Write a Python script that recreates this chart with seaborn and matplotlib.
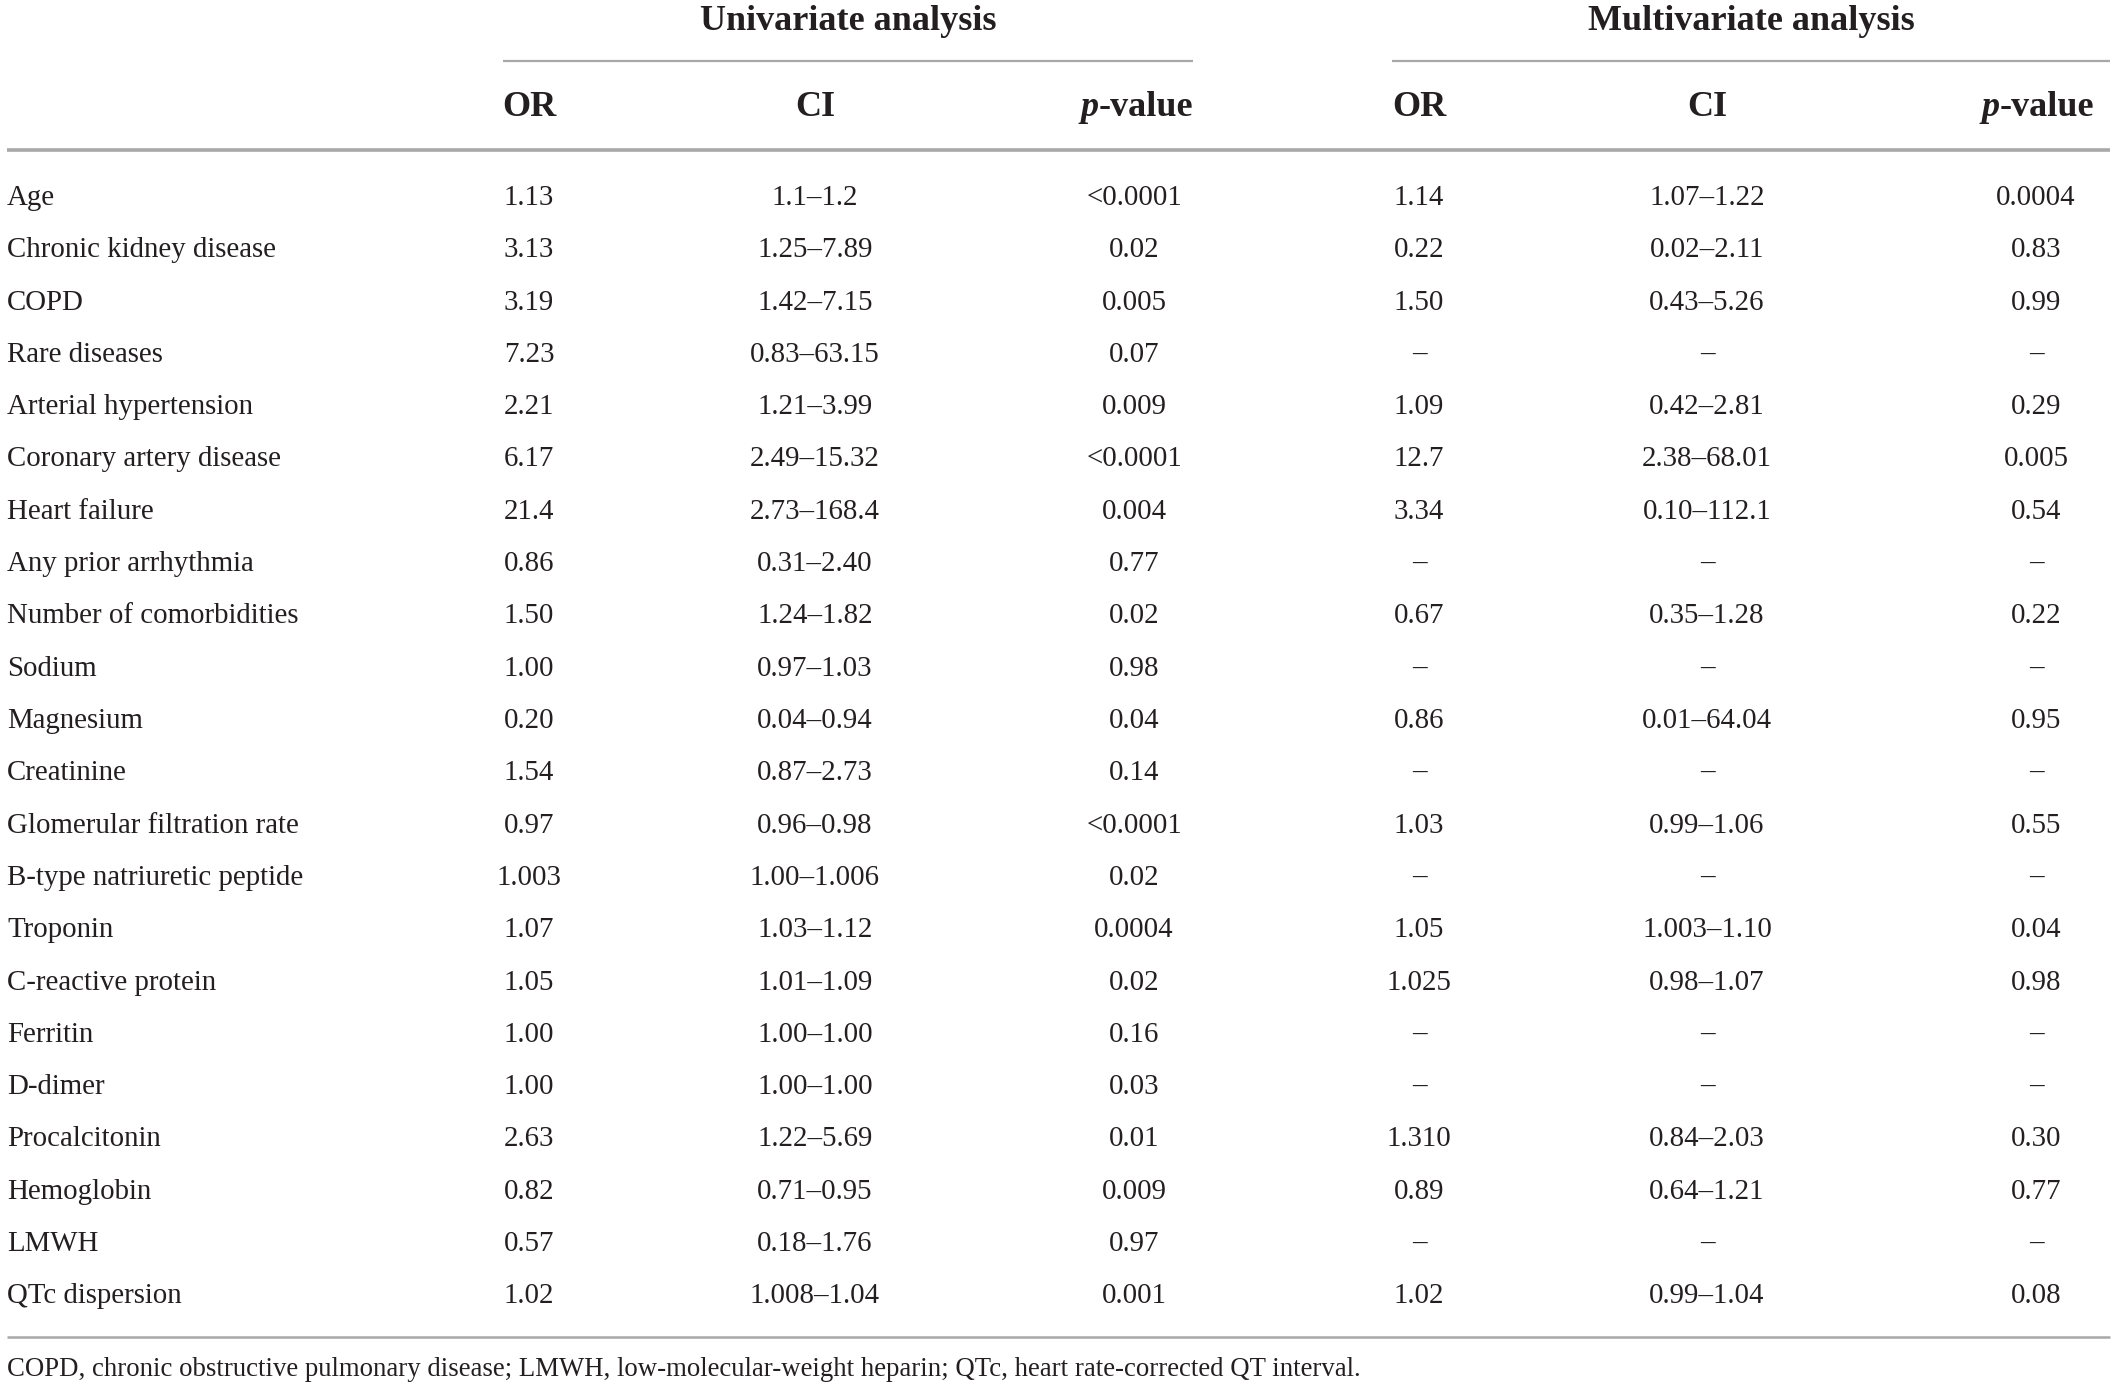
import matplotlib
matplotlib.use("Agg")
import matplotlib.pyplot as plt
import seaborn as sns
import pandas as pd

variables = ["Age", "Chronic kidney disease", "COPD", "Rare diseases", "Arterial hypertension",
             "Coronary artery disease", "Heart failure", "Any prior arrhythmia",
             "Number of comorbidities", "Sodium", "Magnesium", "Creatinine",
             "Glomerular filtration rate", "B-type natriuretic peptide", "Troponin",
             "C-reactive protein", "Ferritin", "D-dimer", "Procalcitonin", "Hemoglobin",
             "LMWH", "QTc dispersion"]
uni_or = ["1.13", "3.13", "3.19", "7.23", "2.21", "6.17", "21.4", "0.86", "1.50", "1.00", "0.20",
          "1.54", "0.97", "1.003", "1.07", "1.05", "1.00", "1.00", "2.63", "0.82", "0.57", "1.02"]
uni_ci = ["1.1–1.2", "1.25–7.89", "1.42–7.15", "0.83–63.15", "1.21–3.99", "2.49–15.32",
          "2.73–168.4", "0.31–2.40", "1.24–1.82", "0.97–1.03", "0.04–0.94", "0.87–2.73",
          "0.96–0.98", "1.00–1.006", "1.03–1.12", "1.01–1.09", "1.00–1.00", "1.00–1.00",
          "1.22–5.69", "0.71–0.95", "0.18–1.76", "1.008–1.04"]
uni_p = ["<0.0001", "0.02", "0.005", "0.07", "0.009", "<0.0001", "0.004", "0.77", "0.02", "0.98",
         "0.04", "0.14", "<0.0001", "0.02", "0.0004", "0.02", "0.16", "0.03", "0.01", "0.009",
         "0.97", "0.001"]
multi_or = ["1.14", "0.22", "1.50", "–", "1.09", "12.7", "3.34", "–", "0.67", "–", "0.86", "–",
            "1.03", "–", "1.05", "1.025", "–", "–", "1.310", "0.89", "–", "1.02"]
multi_ci = ["1.07–1.22", "0.02–2.11", "0.43–5.26", "–", "0.42–2.81", "2.38–68.01", "0.10–112.1",
            "–", "0.35–1.28", "–", "0.01–64.04", "–", "0.99–1.06", "–", "1.003–1.10",
            "0.98–1.07", "–", "–", "0.84–2.03", "0.64–1.21", "–", "0.99–1.04"]
multi_p = ["0.0004", "0.83", "0.99", "–", "0.29", "0.005", "0.54", "–", "0.22", "–", "0.95", "–",
           "0.55", "–", "0.04", "0.98", "–", "–", "0.30", "0.77", "–", "0.08"]
group_labels = ["Univariate analysis", "Multivariate analysis"]
footnote = ("COPD, chronic obstructive pulmonary disease; LMWH, low-molecular-weight heparin; "
            "QTc, heart rate-corrected QT interval.")

df = pd.DataFrame({"Variable": variables, "uOR": uni_or, "uCI": uni_ci, "up": uni_p,
                   "mOR": multi_or, "mCI": multi_ci, "mp": multi_p})

sns.set_theme(style="white")
plt.rcParams["font.family"] = ["Liberation Serif", "DejaVu Serif"]

W, H = 2117, 1389
fig = plt.figure(figsize=(W / 100, H / 100), dpi=100)
ax = fig.add_axes([0, 0, 1, 1])
ax.set_xlim(0, W)
ax.set_ylim(H, 0)
ax.axis("off")

txt = "#231f20"
line_c = "#a8a8a8"
fs = 20.8
gfs = 26
hfs = 26

col_x = {"uOR": 529, "uCI": 815, "up": 1134, "mOR": 1419, "mCI": 1707, "mp": 2036}
y0, dy = 198, 52.3

# group headers
ax.text(848, 22, group_labels[0], ha="center", va="center", fontsize=gfs,
        fontweight="bold", color=txt)
ax.text(1751, 22, group_labels[1], ha="center", va="center", fontsize=gfs,
        fontweight="bold", color=txt)
ax.plot([503, 1193], [61, 61], color=line_c, lw=1.6, solid_capstyle="butt")
ax.plot([1392, 2110], [61, 61], color=line_c, lw=1.6, solid_capstyle="butt")

# column headers
hy = 107
fig.canvas.draw()
renderer = fig.canvas.get_renderer()
for key in ["uOR", "uCI", "mOR", "mCI"]:
    ax.text(col_x[key], hy, "OR" if "OR" in key else "CI", ha="center", va="center",
            fontsize=hfs, fontweight="bold", color=txt)
for right in [1193, 2094]:
    t = ax.text(right, hy, "-value", ha="right", va="center", fontsize=hfs,
                fontweight="bold", color=txt)
    bb = t.get_window_extent(renderer=renderer)
    inv = ax.transData.inverted()
    left_x = inv.transform((bb.x0, bb.y0))[0]
    ax.text(left_x, hy, "p", ha="right", va="center", fontsize=hfs,
            fontweight="bold", fontstyle="italic", color=txt)

ax.plot([7, 2110], [150, 150], color=line_c, lw=2.6, solid_capstyle="butt")

# body
for i, row in df.iterrows():
    y = y0 + i * dy
    ax.text(7, y, row["Variable"], ha="left", va="center", fontsize=fs, color=txt)
    for key in col_x:
        ax.text(col_x[key], y, row[key], ha="center", va="center", fontsize=fs, color=txt)

ax.plot([7, 2110], [1337, 1337], color=line_c, lw=1.8, solid_capstyle="butt")
ax.text(7, 1370, footnote, ha="left", va="center", fontsize=19.3, color=txt)

fig.savefig("out.png", dpi=100, facecolor="white")
